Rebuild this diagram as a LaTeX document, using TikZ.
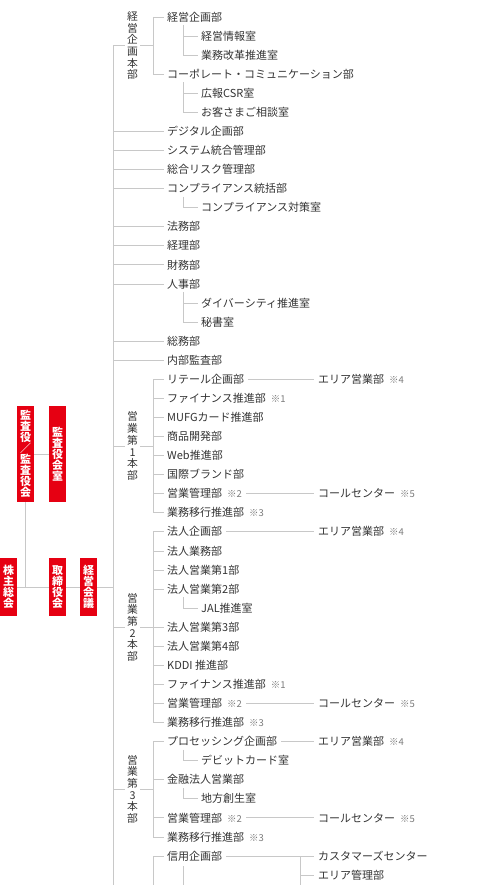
\documentclass[tikz,border=0pt]{standalone}
\usepackage{fontspec}
\setmainfont{Noto Sans CJK JP}
\usetikzlibrary{calc}
\definecolor{mred}{HTML}{E60012}
\definecolor{lgray}{HTML}{C8C8C8}
\definecolor{txt}{HTML}{333333}
\definecolor{notec}{HTML}{7A7A7A}
\newcommand{\nt}[1]{\hspace{5pt}{\fontsize{9.5}{9.5}\selectfont\color{notec}※#1}}
\pgfdeclarelayer{bg}
\pgfsetlayers{bg,main}
\tikzset{
  row/.style={anchor=west, inner sep=0pt, text=txt, font=\fontsize{11}{12}\selectfont, text height=9.6pt, text depth=1.4pt},
  vlabel/.style={inner sep=0pt, outer sep=2.5pt, align=center, text=txt, font=\fontsize{10.8}{11.7}\selectfont},
  redbox/.style={fill=mred, text=white, inner sep=0pt, minimum width=17pt, align=center, font=\fontsize{11}{11}\selectfont\bfseries},
  conn/.style={draw=lgray, line width=0.9pt}
}
\begin{document}
\begin{tikzpicture}[x=1pt,y=-1pt]
\useasboundingbox (0,0) rectangle (486,885);
% red boxes
\node[redbox, minimum height=96pt] (kansa) at (25.5,454) {監\\査\\役\\／\\監\\査\\役\\会};
\node[redbox, minimum height=96pt] (kansashitsu) at (57.5,454) {監\\査\\役\\会\\室};
\node[redbox, minimum height=58pt] (kabu) at (8.5,587) {株\\主\\総\\会};
\node[redbox, minimum height=58pt] (tori) at (57.5,587) {取\\締\\役\\会};
\node[redbox, minimum height=58pt] (keiei) at (88.5,587) {経\\営\\会\\議};

\coordinate (mtop) at (113,45.6);
\coordinate (mbot) at (113,885);
\coordinate (s1) at (153,0);
\coordinate (s2) at (183,0);
\coordinate (s3) at (300,0);

% group labels
\node[vlabel] (gA) at (132.5,45.6) {経\\営\\企\\画\\本\\部};
\node[vlabel] (gB) at (132.5,446.1) {営\\業\\第\\1\\本\\部};
\node[vlabel] (gC) at (132.5,627.2) {営\\業\\第\\2\\本\\部};
\node[vlabel] (gD) at (132.5,789.3) {営\\業\\第\\3\\本\\部};

% rows
\node[row] (r0) at (167,17) {経営企画部};
\node[row] (r1) at (201,36.07) {経営情報室};
\node[row] (r2) at (201,55.14) {業務改革推進室};
\node[row] (r3) at (167,74.21) {コーポレート・コミュニケーション部};
\node[row] (r4) at (201,93.28) {広報CSR室};
\node[row] (r5) at (201,112.35) {お客さまご相談室};
\node[row] (r6) at (167,131.42) {デジタル企画部};
\node[row] (r7) at (167,150.49) {システム統合管理部};
\node[row] (r8) at (167,169.56) {総合リスク管理部};
\node[row] (r9) at (167,188.63) {コンプライアンス統括部};
\node[row] (r10) at (201,207.7) {コンプライアンス対策室};
\node[row] (r11) at (167,226.77) {法務部};
\node[row] (r12) at (167,245.84) {経理部};
\node[row] (r13) at (167,264.91) {財務部};
\node[row] (r14) at (167,283.98) {人事部};
\node[row] (r15) at (201,303.05) {ダイバーシティ推進室};
\node[row] (r16) at (201,322.12) {秘書室};
\node[row] (r17) at (167,341.19) {総務部};
\node[row] (r18) at (167,360.26) {内部監査部};
\node[row] (r19) at (167,379.33) {リテール企画部};
\node[row] (r20) at (167,398.4) {ファイナンス推進部\nt{1}};
\node[row] (r21) at (167,417.47) {MUFGカード推進部};
\node[row] (r22) at (167,436.54) {商品開発部};
\node[row] (r23) at (167,455.61) {Web推進部};
\node[row] (r24) at (167,474.68) {国際ブランド部};
\node[row] (r25) at (167,493.75) {営業管理部\nt{2}};
\node[row] (r26) at (167,512.82) {業務移行推進部\nt{3}};
\node[row] (r27) at (167,531.89) {法人企画部};
\node[row] (r28) at (167,550.96) {法人業務部};
\node[row] (r29) at (167,570.03) {法人営業第1部};
\node[row] (r30) at (167,589.1) {法人営業第2部};
\node[row] (r31) at (201,608.17) {JAL推進室};
\node[row] (r32) at (167,627.24) {法人営業第3部};
\node[row] (r33) at (167,646.31) {法人営業第4部};
\node[row] (r34) at (167,665.38) {KDDI 推進部};
\node[row] (r35) at (167,684.45) {ファイナンス推進部\nt{1}};
\node[row] (r36) at (167,703.52) {営業管理部\nt{2}};
\node[row] (r37) at (167,722.59) {業務移行推進部\nt{3}};
\node[row] (r38) at (167,741.66) {プロセッシング企画部};
\node[row] (r39) at (201,760.73) {デビットカード室};
\node[row] (r40) at (167,779.8) {金融法人営業部};
\node[row] (r41) at (201,798.87) {地方創生室};
\node[row] (r42) at (167,817.94) {営業管理部\nt{2}};
\node[row] (r43) at (167,837.01) {業務移行推進部\nt{3}};
\node[row] (r44) at (167,856.08) {信用企画部};
% right column
\node[row] (e19) at (318,379.33) {エリア営業部\nt{4}};
\node[row] (e25) at (318,493.75) {コールセンター\nt{5}};
\node[row] (e27) at (318,531.89) {エリア営業部\nt{4}};
\node[row] (e36) at (318,703.52) {コールセンター\nt{5}};
\node[row] (e38) at (318,741.66) {エリア営業部\nt{4}};
\node[row] (e42) at (318,817.94) {コールセンター\nt{5}};
\node[row] (e44) at (318,856.08) {カスタマーズセンター};
\node[row] (e45) at (318,875.15) {エリア管理部};

\begin{pgfonlayer}{bg}
% left boxes
\draw[conn] (kansa) -- (kansashitsu);
\draw[conn] (kansa.south) -- (kansa.south |- kabu.east);
\draw[conn] (kabu.east) -- (kabu.east -| mtop);
% main trunk
\draw[conn] (mtop) -- (mbot);
% group labels
\foreach \g in {gA,gB,gC,gD}{
  \draw[conn] (mtop |- \g.west) -- (\g.west);
  \draw[conn] (\g.east) -- (s1 |- \g.east);
}
% group verticals
\draw[conn] (s1 |- r0.west) -- (s1 |- r3.west);
\draw[conn] (s1 |- r19.west) -- (s1 |- r26.west);
\draw[conn] (s1 |- r27.west) -- (s1 |- r37.west);
\draw[conn] (s1 |- r38.west) -- (s1 |- r43.west);
\draw[conn] (s1 |- r44.west) -- (s1 |- mbot);
% level-1 children
\foreach \r in {r0,r3,r19,r20,r21,r22,r23,r24,r25,r26,r27,r28,r29,r30,r32,r33,r34,r35,r36,r37,r38,r40,r42,r43,r44}{
  \draw[conn] (s1 |- \r.west) -- ([xshift=-3pt]\r.west);
}
% direct rows from trunk
\foreach \r in {r6,r7,r8,r9,r11,r12,r13,r14,r17,r18}{
  \draw[conn] (mtop |- \r.west) -- ([xshift=-3pt]\r.west);
}
% level-2 children
\draw[conn] ($(s2 |- r0.west)+(0,8)$) |- ([xshift=-3pt]r2.west);
\draw[conn] (s2 |- r1.west) -- ([xshift=-3pt]r1.west);
\draw[conn] ($(s2 |- r3.west)+(0,8)$) |- ([xshift=-3pt]r5.west);
\draw[conn] (s2 |- r4.west) -- ([xshift=-3pt]r4.west);
\draw[conn] ($(s2 |- r9.west)+(0,8)$) |- ([xshift=-3pt]r10.west);
\draw[conn] ($(s2 |- r14.west)+(0,8)$) |- ([xshift=-3pt]r16.west);
\draw[conn] (s2 |- r15.west) -- ([xshift=-3pt]r15.west);
\draw[conn] ($(s2 |- r30.west)+(0,8)$) |- ([xshift=-3pt]r31.west);
\draw[conn] ($(s2 |- r38.west)+(0,8)$) |- ([xshift=-3pt]r39.west);
\draw[conn] ($(s2 |- r40.west)+(0,8)$) |- ([xshift=-3pt]r41.west);
\draw[conn] ($(s2 |- r44.west)+(0,10)$) -- (s2 |- mbot);
% right connectors
\foreach \a/\b in {r19/e19,r25/e25,r27/e27,r36/e36,r38/e38,r42/e42,r44/e44}{
  \draw[conn] ([xshift=4pt]\a.east) -- ([xshift=-4pt]\b.west);
}
\draw[conn] (s3 |- e44.west) -- (s3 |- mbot);
\draw[conn] (s3 |- e45.west) -- ([xshift=-4pt]e45.west);
\end{pgfonlayer}
\end{tikzpicture}
\end{document}
